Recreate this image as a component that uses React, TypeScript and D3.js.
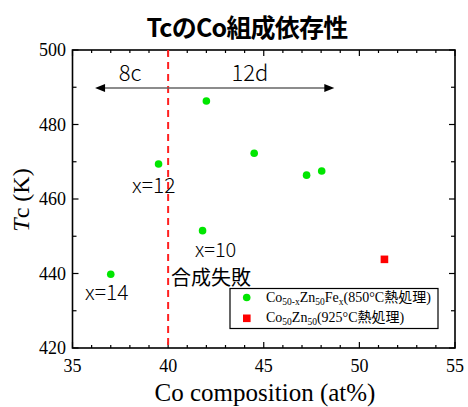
import React from 'react';
import * as d3 from 'd3';

// Co50-xZn50Fex (850°C)
const feX = [37.0, 39.5, 41.8, 42.0, 44.5, 47.24, 48.03];
const feTc = [439.8, 469.4, 451.5, 486.3, 472.3, 466.4, 467.5];
// Co50Zn50 (925°C)
const znX = [51.31];
const znTc = [443.8];

const xTicks = [35, 40, 45, 50, 55];
const yTicks = [420, 440, 460, 480, 500];

const W = 468, H = 407;
const M = { left: 72.5, right: 455, top: 50, bottom: 348 };

export default function App() {
  const x = d3.scaleLinear().domain([35, 55]).range([M.left, M.right]);
  const y = d3.scaleLinear().domain([420, 500]).range([M.bottom, M.top]);

  const xMinor = d3.range(35, 56, 1);
  const yMinor = d3.range(420, 501, 10);
  const serif = "Liberation Serif";
  const jp = "Noto Sans CJK JP";
  const legSerif = "Liberation Serif, Noto Sans CJK JP";

  const arrowY = y(489.8);
  const aL = x(36.18), aR = x(48.69);

  return (
    <svg width={W} height={H} style={{ position: 'absolute', left: 0, top: 0, background: '#fff' }}>
      {/* title */}
      <text x={247} y={37} textAnchor="middle" fontFamily={jp} fontWeight="bold" fontSize={25} letterSpacing={-0.8}>TcのCo組成依存性</text>

      {/* ticks */}
      {xMinor.map(v => {
        const len = v % 5 === 0 ? 6 : 3;
        return (
          <g key={'xt' + v}>
            <line x1={x(v)} x2={x(v)} y1={M.bottom} y2={M.bottom - len} stroke="#000" strokeWidth={1.2} />
            <line x1={x(v)} x2={x(v)} y1={M.top} y2={M.top + len} stroke="#000" strokeWidth={1.2} />
          </g>
        );
      })}
      {yMinor.map(v => {
        const len = v % 20 === 0 ? 6 : 4;
        return (
          <g key={'yt' + v}>
            <line x1={M.left} x2={M.left + len} y1={y(v)} y2={y(v)} stroke="#000" strokeWidth={1.2} />
            <line x1={M.right} x2={M.right - len} y1={y(v)} y2={y(v)} stroke="#000" strokeWidth={1.2} />
          </g>
        );
      })}
      <rect x={M.left} y={M.top} width={M.right - M.left} height={M.bottom - M.top} fill="none" stroke="#000" strokeWidth={1.6} />

      {/* tick labels */}
      {xTicks.map(v => (
        <text key={'xl' + v} x={x(v)} y={372} textAnchor="middle" fontFamily={serif} fontSize={18}>{v}</text>
      ))}
      {yTicks.map(v => (
        <text key={'yl' + v} x={66} y={y(v) + 6} textAnchor="end" fontFamily={serif} fontSize={18}>{v}</text>
      ))}

      {/* axis labels */}
      <text x={265} y={401} textAnchor="middle" fontFamily={serif} fontSize={25}>Co composition (at%)</text>
      <text transform="translate(29,200) rotate(-90)" textAnchor="middle" fontFamily={serif} fontSize={24}>
        <tspan fontStyle="italic">T</tspan>c (K)
      </text>

      {/* dashed boundary */}
      <line x1={x(40)} x2={x(40)} y1={M.top} y2={M.bottom} stroke="#ff2020" strokeWidth={2} strokeDasharray="7,5" />

      {/* double arrow */}
      <line x1={aL + 8} x2={aR - 8} y1={arrowY} y2={arrowY} stroke="#666" strokeWidth={1.5} />
      <path d={`M${aL},${arrowY} L${aL + 10},${arrowY - 4} L${aL + 10},${arrowY + 4} Z`} fill="#000" />
      <path d={`M${aR},${arrowY} L${aR - 10},${arrowY - 4} L${aR - 10},${arrowY + 4} Z`} fill="#000" />
      <text x={130} y={81} textAnchor="middle" fontFamily={jp} fontWeight={300} fontSize={22}>8c</text>
      <text x={250} y={81} textAnchor="middle" fontFamily={jp} fontWeight={300} fontSize={22}>12d</text>

      {/* annotations */}
      <text x={132} y={193} fontFamily={jp} fontWeight={300} fontSize={21}>x=12</text>
      <text x={195} y={257} fontFamily={jp} fontWeight={300} fontSize={20}>x=10</text>
      <text x={85} y={300} fontFamily={jp} fontWeight={300} fontSize={21}>x=14</text>
      <text x={171} y={285} fontFamily={jp} fontSize={20}>合成失敗</text>

      {/* data */}
      {feX.map((v, i) => (
        <circle key={'f' + i} cx={x(v)} cy={y(feTc[i])} r={3.8} fill="#00e600" />
      ))}
      {znX.map((v, i) => (
        <rect key={'z' + i} x={x(v) - 3.8} y={y(znTc[i]) - 3.8} width={7.6} height={7.6} fill="#ff0000" />
      ))}

      {/* legend */}
      <rect x={230} y={288.5} width={208} height={40} fill="#fff" stroke="#000" strokeWidth={1.2} />
      <circle cx={246.7} cy={297.5} r={3.8} fill="#00e600" />
      <rect x={243} y={314.5} width={7.6} height={7.6} fill="#ff0000" />
      <text x={266} y={302} fontFamily={legSerif} fontSize={14}>
        Co<tspan fontSize={9.5} dy={3}>50-x</tspan><tspan dy={-3}>Zn</tspan><tspan fontSize={9.5} dy={3}>50</tspan><tspan dy={-3}>Fe</tspan><tspan fontSize={9.5} dy={3}>x</tspan><tspan dy={-3}>(850°C熱処理)</tspan>
      </text>
      <text x={266} y={322} fontFamily={legSerif} fontSize={14}>
        Co<tspan fontSize={9.5} dy={3}>50</tspan><tspan dy={-3}>Zn</tspan><tspan fontSize={9.5} dy={3}>50</tspan><tspan dy={-3}>(925°C熱処理)</tspan>
      </text>
    </svg>
  );
}
